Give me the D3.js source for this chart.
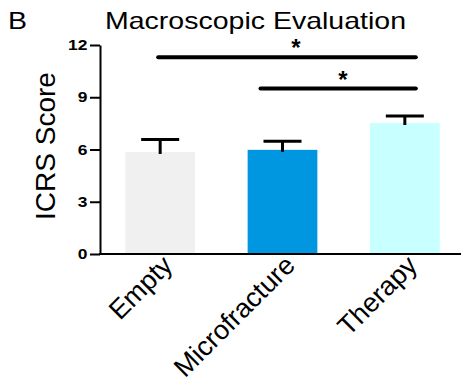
<!DOCTYPE html>
<html>
<head>
<meta charset="utf-8">
<script src="https://cdn.jsdelivr.net/npm/d3@7"></script>
<style>
  body { margin: 0; background: #fff; }
  text { font-family: "Liberation Sans", Arial, sans-serif; }
</style>
</head>
<body>
<svg id="chart"></svg>
<script>
const width = 461;
const height = 388;

// data
const groups = ["Empty", "Microfracture", "Therapy"];
const means = [5.86, 5.98, 7.52];
const errors = [0.71, 0.50, 0.41];
const barColors = ["#f0f0f0", "#0096e0", "#c8ffff"];
const yTicks = [0, 3, 6, 9, 12];
const sigFrom = ["Empty", "Microfracture"];
const sigTo = ["Therapy", "Therapy"];
const sigLevel = [11.3, 9.5];

const svg = d3.select("#chart")
    .attr("width", width)
    .attr("height", height);

const y = d3.scaleLinear().domain([0, 12]).range([254, 45]);
const x = d3.scaleBand().domain(groups).range([99, 466])
    .paddingInner(0.43).paddingOuter(0.215);

// bars
svg.selectAll("rect.bar")
    .data(groups)
    .enter().append("rect")
    .attr("class", "bar")
    .attr("x", d => x(d))
    .attr("y", (d, i) => y(means[i]))
    .attr("width", x.bandwidth())
    .attr("height", (d, i) => y(0) - y(means[i]))
    .attr("fill", (d, i) => barColors[i]);

// error bars (upper only)
const cx = d => x(d) + x.bandwidth() / 2;
svg.selectAll("line.err")
    .data(groups)
    .enter().append("line")
    .attr("x1", cx).attr("x2", cx)
    .attr("y1", (d, i) => y(means[i]) + 2)
    .attr("y2", (d, i) => y(means[i] + errors[i]))
    .attr("stroke", "#000").attr("stroke-width", 3);
svg.selectAll("line.cap")
    .data(groups)
    .enter().append("line")
    .attr("x1", d => cx(d) - 19).attr("x2", d => cx(d) + 19)
    .attr("y1", (d, i) => y(means[i] + errors[i]))
    .attr("y2", (d, i) => y(means[i] + errors[i]))
    .attr("stroke", "#000").attr("stroke-width", 3);

// y axis
const yAxis = svg.append("g")
    .attr("transform", "translate(100,0)")
    .call(d3.axisLeft(y).tickValues(yTicks).tickSize(10).tickSizeOuter(0));
yAxis.select(".domain").attr("stroke", "#000").attr("stroke-width", 2);
yAxis.selectAll(".tick line").attr("stroke", "#000").attr("stroke-width", 2);
yAxis.selectAll(".tick text")
    .attr("x", -10.5)
    .attr("transform", "scale(1.2,1)")
    .attr("font-family", "Liberation Sans, Arial, sans-serif")
    .attr("font-size", 14.5).attr("font-weight", "bold").attr("fill", "#000");

// x axis line
svg.append("line")
    .attr("x1", 99).attr("x2", width)
    .attr("y1", y(0)).attr("y2", y(0))
    .attr("stroke", "#000").attr("stroke-width", 2);

// x labels
svg.selectAll("text.xlab")
    .data(groups)
    .enter().append("text")
    .attr("class", "xlab")
    .attr("transform", d => `translate(${cx(d) + 14},${y(0) + 13}) rotate(-45)`)
    .attr("text-anchor", "end")
    .attr("font-size", 27)
    .text(d => d);

// y label
svg.append("text")
    .attr("transform", "translate(55,146) rotate(-90)")
    .attr("text-anchor", "middle")
    .attr("font-size", 28)
    .text("ICRS Score");

// title and panel letter
svg.append("text")
    .attr("transform", "translate(255.5,29) scale(1.24,1)")
    .attr("text-anchor", "middle")
    .attr("font-size", 23)
    .text("Macroscopic Evaluation");
svg.append("text")
    .attr("transform", "translate(8,29) scale(1.24,1)")
    .attr("font-size", 23)
    .text("B");

// significance bars
const sig = d3.range(sigFrom.length);
const sigLeft = [-2, -22];
svg.selectAll("line.sig")
    .data(sig)
    .enter().append("line")
    .attr("x1", i => cx(sigFrom[i]) + sigLeft[i])
    .attr("x2", i => cx(sigTo[i]) + 11)
    .attr("y1", i => y(sigLevel[i])).attr("y2", i => y(sigLevel[i]))
    .attr("stroke", "#000").attr("stroke-width", 4).attr("stroke-linecap", "round");
const starX = [296, 343];
svg.selectAll("text.star")
    .data(sig)
    .enter().append("text")
    .attr("x", i => starX[i])
    .attr("y", i => y(sigLevel[i]) - 1)
    .attr("text-anchor", "middle")
    .attr("font-size", 24).attr("font-weight", "bold")
    .text("*");
</script>
</body>
</html>
